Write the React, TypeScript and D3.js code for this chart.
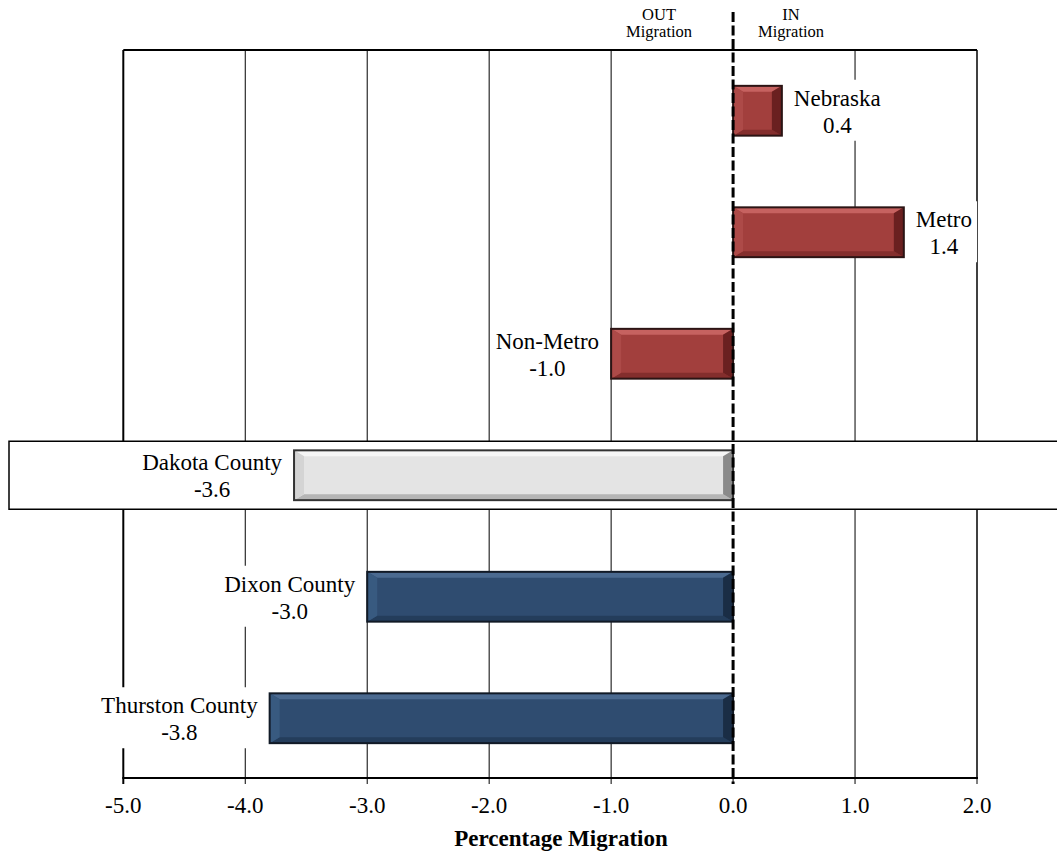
import React from "react";
import * as d3 from "d3";

const categories = ["Nebraska", "Metro", "Non-Metro", "Dakota County", "Dixon County", "Thurston County"];
const values = [0.4, 1.4, -1.0, -3.6, -3.0, -3.8];
const groups = ["state", "state", "state", "focus", "county", "county"];
const xTicks = [-5, -4, -3, -2, -1, 0, 1, 2];
const gridTicks = [-4, -3, -2, -1, 1];
const highlighted = "Dakota County";

const palette: Record<string, { main: string; top: string; bottom: string; left: string; right: string; stroke: string }> = {
  state: { main: "#a23f3d", top: "#c66260", bottom: "#842e2d", left: "#ad4a48", right: "#6a2020", stroke: "#2b1414" },
  county: { main: "#2f4c70", top: "#4b6a90", bottom: "#243d5b", left: "#385a80", right: "#1a2d45", stroke: "#111a26" },
  focus: { main: "#e4e4e4", top: "#f6f6f6", bottom: "#b5b5b5", left: "#d4d4d4", right: "#8a8a8a", stroke: "#333333" },
};

const W = 1057;
const H = 855;
const FONT = "Liberation Serif, Times New Roman, serif";

export default function App() {
  const x = d3.scaleLinear().domain([-5, 2]).range([123.3, 977]);
  const y = d3.scaleBand<string>().domain(categories).range([50, 779]).paddingInner(0.59).paddingOuter(0.295);
  const top = 50;
  const bottom = 778;
  const bw = y.bandwidth();

  const bars = categories.map((c, i) => {
    const v = values[i];
    const x0 = Math.min(x(0), x(v));
    const x1 = Math.max(x(0), x(v));
    const y0 = y(c)!;
    const y1 = y0 + bw;
    const p = palette[groups[i]];
    const bx = Math.min(10, (x1 - x0) / 3);
    const by = 6;
    const pts = (arr: number[][]) => arr.map((a) => a.join(",")).join(" ");
    return (
      <g key={c}>
        <rect x={x0} y={y0} width={x1 - x0} height={bw} fill={p.main} />
        <polygon points={pts([[x0, y0], [x1, y0], [x1 - bx, y0 + by], [x0 + bx, y0 + by]])} fill={p.top} />
        <polygon points={pts([[x0, y1], [x1, y1], [x1 - bx, y1 - by], [x0 + bx, y1 - by]])} fill={p.bottom} />
        <polygon points={pts([[x0, y0], [x0 + bx, y0 + by], [x0 + bx, y1 - by], [x0, y1]])} fill={p.left} />
        <polygon points={pts([[x1, y0], [x1 - bx, y0 + by], [x1 - bx, y1 - by], [x1, y1]])} fill={p.right} />
        <rect x={x0} y={y0} width={x1 - x0} height={bw} fill="none" stroke={p.stroke} strokeWidth={2} />
      </g>
    );
  });

  const labels = categories.map((c, i) => {
    const v = values[i];
    const cy = y(c)! + bw / 2;
    const gap = 12;
    const end = x(v);
    const anchorX = v >= 0 ? end + gap : end - gap;
    return { c, v, cy, anchorX, pos: v >= 0 };
  });

  return (
    <svg width={W} height={H} style={{ position: "absolute", left: 0, top: 0, background: "#fff" }} fontFamily={FONT}>
      <rect x={0} y={0} width={W} height={H} fill="#fff" />
      {gridTicks.map((t) => (
        <line key={t} x1={x(t)} x2={x(t)} y1={top} y2={bottom} stroke="#000" strokeWidth={1} />
      ))}
      <line x1={x(-5)} x2={x(2)} y1={top} y2={top} stroke="#000" strokeWidth={2} />
      <line x1={x(-5)} x2={x(-5)} y1={top} y2={bottom} stroke="#000" strokeWidth={2} />
      <line x1={x(2)} x2={x(2)} y1={top} y2={bottom} stroke="#000" strokeWidth={1.5} />
      <line x1={x(-5) - 1} x2={x(2) + 1} y1={bottom} y2={bottom} stroke="#000" strokeWidth={2} />
      {xTicks.map((t) => (
        <line key={"tk" + t} x1={x(t)} x2={x(t)} y1={bottom} y2={bottom + 6} stroke="#000" strokeWidth={t === -5 ? 2 : 1} />
      ))}
      <rect
        x={9}
        y={y(highlighted)! + bw / 2 - 34}
        width={W + 20}
        height={68}
        fill="#fff"
        stroke="#000"
        strokeWidth={1.5}
      />
      {bars}
      <line x1={x(0)} x2={x(0)} y1={12} y2={bottom + 6} stroke="#000" strokeWidth={3} strokeDasharray="10,3.5" />
      {labels.map((l) => (
        <LabelBox key={l.c} {...l} fontSize={23} />
      ))}
      {xTicks.map((t) => (
        <text key={"tl" + t} x={x(t)} y={813} textAnchor="middle" fontSize={23} fill="#000">
          {t.toFixed(1)}
        </text>
      ))}
      <text x={561} y={846} textAnchor="middle" fontSize={23} fontWeight="bold" fill="#000">
        Percentage Migration
      </text>
      <text x={x(0) - 74} textAnchor="middle" fontSize={16.5} fill="#000">
        <tspan x={x(0) - 74} y={20}>OUT</tspan>
        <tspan x={x(0) - 74} y={37}>Migration</tspan>
      </text>
      <text x={x(0) + 58} textAnchor="middle" fontSize={16.5} fill="#000">
        <tspan x={x(0) + 58} y={20}>IN</tspan>
        <tspan x={x(0) + 58} y={37}>Migration</tspan>
      </text>
    </svg>
  );
}

function LabelBox(props: { c: string; v: number; cy: number; anchorX: number; pos: boolean; fontSize: number }) {
  const { c, v, cy, anchorX, pos, fontSize } = props;
  const ref = React.useRef<SVGGElement>(null);
  const [w, setW] = React.useState(0);
  React.useLayoutEffect(() => {
    if (ref.current) {
      const texts = ref.current.querySelectorAll("text");
      let m = 0;
      texts.forEach((t) => {
        m = Math.max(m, (t as SVGTextElement).getComputedTextLength());
      });
      setW(m);
    }
  }, [c]);
  const left = pos ? anchorX : anchorX - w;
  const cx = left + w / 2;
  return (
    <g ref={ref}>
      <rect x={left - 5} y={cy - 31} width={w + 10} height={61} fill="#fff" />
      <text x={cx} y={cy - 5} textAnchor="middle" fontSize={fontSize} fill="#000">
        {c}
      </text>
      <text x={cx} y={cy + 22} textAnchor="middle" fontSize={fontSize} fill="#000">
        {v.toFixed(1)}
      </text>
    </g>
  );
}
